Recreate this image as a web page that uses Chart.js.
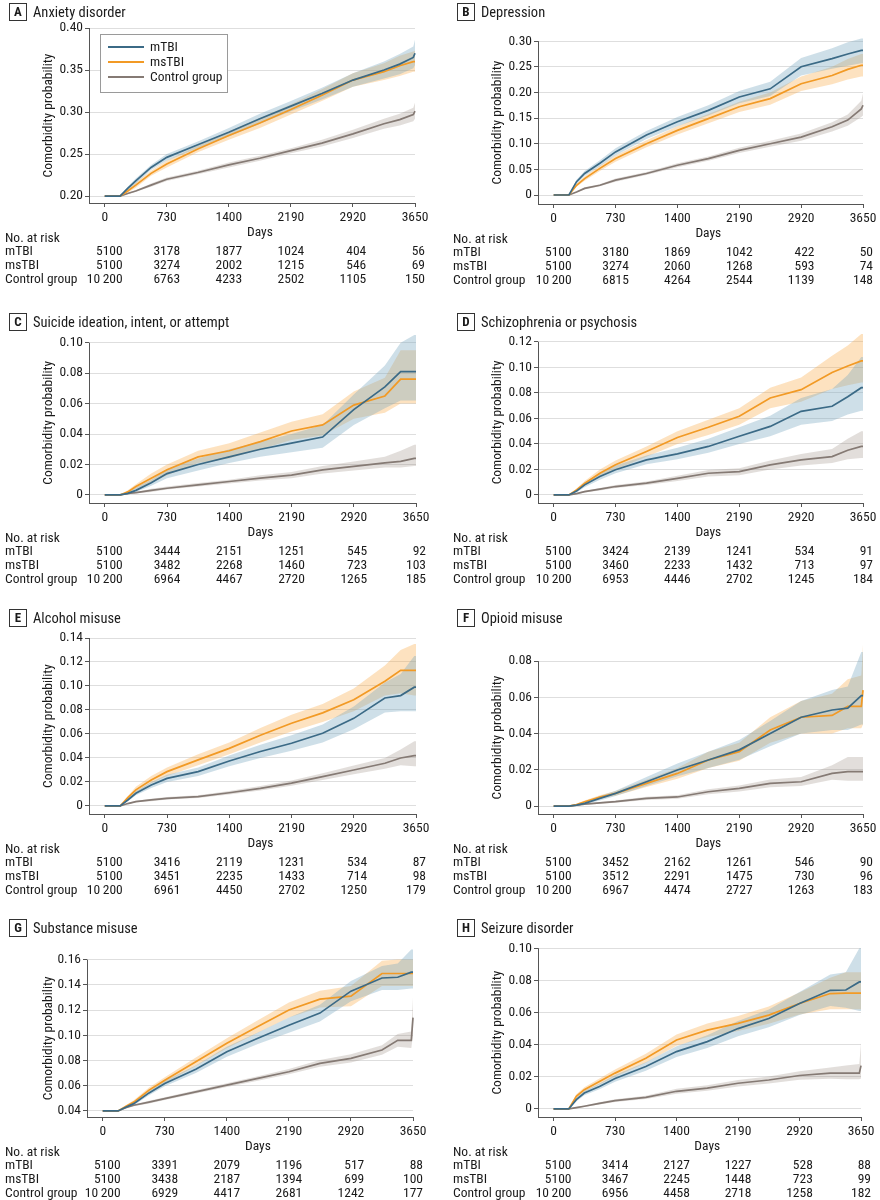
<!DOCTYPE html>
<html lang="en">
<head>
<meta charset="UTF-8">
<title>Comorbidity probability by TBI group</title>
<script src="https://cdn.jsdelivr.net/npm/chart.js@4"></script>
<style>
  html, body { margin: 0; padding: 0; background: #fff; overflow: hidden; }
  .page { position: relative; width: 880px; height: 1200px; }
  .panel { position: absolute; width: 440px; height: 300px; }
</style>
</head>
<body>
<div class="page" id="page"></div>
<script>
// ---- data ----
const days = [0, 180, 270, 365, 545, 730, 1095, 1460, 1825, 2190, 2555, 2920, 3285, 3470, 3630, 3650];
const xTickValues = [0, 730, 1460, 2190, 2920, 3650];
const xTickLabels = ['0', '730', '1400', '2190', '2920', '3650'];
const groupNames = ['mTBI', 'msTBI', 'Control group'];

// A Anxiety disorder
const aMtbi   = [0.200,0.200,0.209,0.218,0.234,0.246,0.261,0.276,0.292,0.307,0.322,0.338,0.350,0.357,0.365,0.370];
const aMtbiLo = [0.200,0.200,0.207,0.215,0.231,0.242,0.257,0.271,0.286,0.301,0.315,0.330,0.340,0.345,0.352,0.356];
const aMtbiHi = [0.200,0.200,0.211,0.221,0.237,0.250,0.265,0.281,0.298,0.313,0.329,0.346,0.360,0.369,0.378,0.386];
const aMs     = [0.200,0.200,0.206,0.213,0.227,0.238,0.256,0.272,0.287,0.303,0.320,0.338,0.348,0.355,0.360,0.360];
const aMsLo   = [0.200,0.200,0.204,0.210,0.224,0.234,0.252,0.267,0.281,0.297,0.313,0.330,0.338,0.343,0.348,0.348];
const aMsHi   = [0.200,0.200,0.208,0.216,0.230,0.242,0.260,0.277,0.293,0.309,0.327,0.346,0.358,0.367,0.372,0.373];
const aCtrl   = [0.200,0.200,0.203,0.206,0.213,0.220,0.228,0.237,0.245,0.254,0.263,0.274,0.286,0.291,0.297,0.301];
const aCtrlLo = [0.200,0.200,0.202,0.205,0.211,0.218,0.226,0.234,0.242,0.251,0.259,0.269,0.280,0.284,0.289,0.292];
const aCtrlHi = [0.200,0.200,0.204,0.207,0.215,0.222,0.230,0.240,0.248,0.257,0.267,0.279,0.292,0.298,0.305,0.311];
const aRiskMtbi = [5100, 3178, 1877, 1024, 404, 56];
const aRiskMs   = [5100, 3274, 2002, 1215, 546, 69];
const aRiskCtrl = [10200, 6763, 4233, 2502, 1105, 150];

// B Depression
const bMtbi   = [0,0,0.026,0.042,0.062,0.084,0.117,0.143,0.165,0.191,0.207,0.250,0.266,0.275,0.282,0.282];
const bMtbiLo = [0,0,0.022,0.037,0.056,0.077,0.109,0.134,0.155,0.179,0.193,0.233,0.246,0.252,0.257,0.257];
const bMtbiHi = [0,0,0.030,0.047,0.068,0.091,0.125,0.152,0.175,0.203,0.221,0.267,0.286,0.298,0.305,0.305];
const bMs     = [0,0,0.019,0.032,0.052,0.071,0.100,0.126,0.149,0.172,0.188,0.217,0.233,0.245,0.253,0.253];
const bMsLo   = [0,0,0.016,0.028,0.047,0.065,0.093,0.118,0.140,0.162,0.176,0.203,0.216,0.225,0.231,0.231];
const bMsHi   = [0,0,0.022,0.036,0.057,0.077,0.107,0.134,0.158,0.182,0.200,0.231,0.250,0.265,0.275,0.275];
const bCtrl   = [0,0,0.006,0.013,0.019,0.029,0.042,0.058,0.071,0.087,0.100,0.113,0.133,0.146,0.168,0.175];
const bCtrlLo = [0,0,0.005,0.011,0.017,0.026,0.039,0.054,0.067,0.082,0.094,0.106,0.124,0.135,0.152,0.155];
const bCtrlHi = [0,0,0.007,0.015,0.021,0.032,0.045,0.062,0.075,0.092,0.106,0.120,0.142,0.157,0.184,0.198];
const bRiskMtbi = [5100, 3180, 1869, 1042, 422, 50];
const bRiskMs   = [5100, 3274, 2060, 1268, 593, 74];
const bRiskCtrl = [10200, 6815, 4264, 2544, 1139, 148];

// C Suicide ideation, intent, or attempt
const cMtbi   = [0,0,0.001,0.003,0.008,0.014,0.020,0.025,0.030,0.034,0.038,0.056,0.071,0.081,0.081,0.081];
const cMtbiLo = [0,0,0.000,0.002,0.006,0.011,0.016,0.021,0.025,0.028,0.031,0.046,0.057,0.062,0.062,0.062];
const cMtbiHi = [0,0,0.002,0.005,0.010,0.017,0.024,0.030,0.035,0.040,0.046,0.066,0.085,0.100,0.105,0.105];
const cMs     = [0,0,0.002,0.0055,0.011,0.0165,0.025,0.029,0.035,0.042,0.046,0.059,0.065,0.076,0.076,0.076];
const cMsLo   = [0,0,0.001,0.004,0.008,0.013,0.021,0.024,0.030,0.036,0.039,0.050,0.054,0.060,0.060,0.060];
const cMsHi   = [0,0,0.003,0.007,0.014,0.020,0.029,0.034,0.041,0.048,0.053,0.068,0.077,0.095,0.095,0.095];
const cCtrl   = [0,0,0.001,0.0015,0.003,0.0044,0.0066,0.0088,0.011,0.013,0.0165,0.0187,0.021,0.022,0.024,0.024];
const cCtrlLo = [0,0,0.0005,0.001,0.002,0.0035,0.0055,0.0075,0.0095,0.011,0.014,0.016,0.018,0.018,0.019,0.019];
const cCtrlHi = [0,0,0.0015,0.002,0.004,0.0055,0.0078,0.010,0.013,0.015,0.019,0.022,0.025,0.029,0.033,0.033];
const cRiskMtbi = [5100, 3444, 2151, 1251, 545, 92];
const cRiskMs   = [5100, 3482, 2268, 1460, 723, 103];
const cRiskCtrl = [10200, 6964, 4467, 2720, 1265, 185];

// D Schizophrenia or psychosis
const dMtbi   = [0,0,0.003,0.0079,0.0144,0.0197,0.0275,0.0322,0.038,0.046,0.0537,0.0655,0.0695,0.077,0.084,0.084];
const dMtbiLo = [0,0,0.002,0.006,0.012,0.017,0.024,0.028,0.033,0.040,0.046,0.055,0.058,0.063,0.066,0.066];
const dMtbiHi = [0,0,0.004,0.010,0.017,0.023,0.031,0.037,0.044,0.053,0.062,0.076,0.083,0.094,0.108,0.108];
const dMs     = [0,0,0.004,0.009,0.017,0.0236,0.034,0.045,0.053,0.0616,0.076,0.0825,0.096,0.101,0.105,0.105];
const dMsLo   = [0,0,0.003,0.007,0.014,0.020,0.030,0.040,0.047,0.055,0.068,0.073,0.083,0.086,0.088,0.088];
const dMsHi   = [0,0,0.005,0.011,0.020,0.027,0.038,0.050,0.059,0.068,0.084,0.092,0.109,0.117,0.126,0.126];
const dCtrl   = [0,0,0.001,0.0026,0.0045,0.0066,0.0092,0.013,0.017,0.0183,0.0236,0.0275,0.030,0.035,0.038,0.038];
const dCtrlLo = [0,0,0.0005,0.002,0.0035,0.0055,0.0078,0.011,0.0145,0.0155,0.020,0.023,0.025,0.028,0.029,0.029];
const dCtrlHi = [0,0,0.0015,0.0033,0.0055,0.0078,0.0106,0.015,0.0195,0.021,0.027,0.032,0.036,0.044,0.050,0.050];
const dRiskMtbi = [5100, 3424, 2139, 1241, 534, 91];
const dRiskMs   = [5100, 3460, 2233, 1432, 713, 97];
const dRiskCtrl = [10200, 6953, 4446, 2702, 1245, 184];

// E Alcohol misuse
const eMtbi   = [0,0,0.005,0.0106,0.0175,0.023,0.0286,0.0375,0.0454,0.0523,0.0606,0.073,0.090,0.092,0.099,0.099];
const eMtbiLo = [0,0,0.004,0.009,0.015,0.020,0.025,0.033,0.040,0.046,0.053,0.064,0.078,0.079,0.079,0.079];
const eMtbiHi = [0,0,0.006,0.0125,0.020,0.026,0.032,0.042,0.051,0.059,0.068,0.083,0.103,0.110,0.125,0.125];
const eMs     = [0,0,0.007,0.0134,0.0217,0.0286,0.0384,0.048,0.059,0.069,0.0776,0.0885,0.104,0.113,0.113,0.113];
const eMsLo   = [0,0,0.006,0.011,0.019,0.025,0.034,0.043,0.053,0.062,0.070,0.079,0.092,0.094,0.092,0.092];
const eMsHi   = [0,0,0.008,0.016,0.025,0.032,0.043,0.053,0.065,0.076,0.085,0.098,0.117,0.130,0.135,0.135];
const eCtrl   = [0,0,0.002,0.0036,0.005,0.0064,0.0078,0.011,0.0147,0.019,0.0245,0.030,0.0356,0.040,0.042,0.042];
const eCtrlLo = [0,0,0.0015,0.003,0.004,0.0053,0.0066,0.0095,0.0128,0.0168,0.0217,0.0265,0.031,0.034,0.033,0.033];
const eCtrlHi = [0,0,0.0025,0.0043,0.006,0.0075,0.009,0.0125,0.0166,0.0212,0.0273,0.0337,0.040,0.047,0.054,0.054];
const eRiskMtbi = [5100, 3416, 2119, 1231, 534, 87];
const eRiskMs   = [5100, 3451, 2235, 1433, 714, 98];
const eRiskCtrl = [10200, 6961, 4450, 2702, 1250, 179];

// F Opioid misuse
const fMtbi   = [0,0,0.0005,0.0015,0.0042,0.007,0.0134,0.0199,0.0254,0.031,0.040,0.049,0.053,0.054,0.061,0.061];
const fMtbiLo = [0,0,0.0000,0.001,0.003,0.0055,0.011,0.0165,0.021,0.0255,0.033,0.040,0.042,0.042,0.045,0.045];
const fMtbiHi = [0,0,0.001,0.002,0.0055,0.0085,0.016,0.0235,0.030,0.0365,0.047,0.058,0.064,0.066,0.085,0.085];
const fMs     = [0,0,0.0008,0.0024,0.005,0.007,0.0125,0.018,0.0254,0.030,0.042,0.049,0.050,0.055,0.055,0.064];
const fMsLo   = [0,0,0.0003,0.0017,0.004,0.0057,0.0105,0.015,0.021,0.025,0.035,0.040,0.040,0.043,0.043,0.045];
const fMsHi   = [0,0,0.0013,0.0031,0.006,0.0083,0.0145,0.021,0.030,0.035,0.049,0.058,0.062,0.070,0.072,0.089];
const fCtrl   = [0,0,0.0005,0.001,0.0017,0.0024,0.0042,0.005,0.0079,0.0097,0.0125,0.0134,0.018,0.019,0.019,0.019];
const fCtrlLo = [0,0,0.0002,0.0006,0.0012,0.0018,0.0033,0.004,0.0065,0.008,0.0103,0.011,0.0145,0.014,0.014,0.014];
const fCtrlHi = [0,0,0.0008,0.0014,0.0022,0.003,0.0051,0.006,0.0093,0.0114,0.0147,0.016,0.0225,0.027,0.027,0.027];
const fRiskMtbi = [5100, 3452, 2162, 1261, 546, 90];
const fRiskMs   = [5100, 3512, 2291, 1475, 730, 96];
const fRiskCtrl = [10200, 6967, 4474, 2727, 1263, 183];

// G Substance misuse
const gMtbi   = [0.040,0.040,0.043,0.0458,0.0543,0.0618,0.073,0.087,0.0976,0.108,0.1176,0.135,0.1454,0.146,0.150,0.150];
const gMtbiLo = [0.040,0.040,0.042,0.0445,0.0525,0.0595,0.070,0.083,0.093,0.102,0.111,0.127,0.136,0.136,0.137,0.137];
const gMtbiHi = [0.040,0.040,0.044,0.047,0.0561,0.0641,0.076,0.091,0.1022,0.114,0.1242,0.143,0.155,0.157,0.168,0.168];
const gMs     = [0.040,0.040,0.0435,0.047,0.0565,0.0644,0.079,0.0937,0.107,0.120,0.1287,0.131,0.149,0.149,0.149,0.149];
const gMsLo   = [0.040,0.040,0.0425,0.0455,0.0545,0.062,0.0757,0.0897,0.102,0.114,0.122,0.123,0.139,0.139,0.139,0.139];
const gMsHi   = [0.040,0.040,0.0445,0.0485,0.0585,0.0668,0.0823,0.0977,0.112,0.126,0.1354,0.139,0.159,0.160,0.160,0.160];
const gCtrl   = [0.040,0.040,0.0425,0.0445,0.047,0.0498,0.0551,0.0605,0.0658,0.0711,0.0777,0.0817,0.0883,0.096,0.096,0.114];
const gCtrlLo = [0.040,0.040,0.042,0.0438,0.046,0.0487,0.0538,0.059,0.064,0.069,0.075,0.0785,0.0845,0.091,0.090,0.100];
const gCtrlHi = [0.040,0.040,0.043,0.0452,0.048,0.0509,0.0564,0.062,0.0676,0.0732,0.0804,0.085,0.0921,0.101,0.103,0.130];
const gRiskMtbi = [5100, 3391, 2079, 1196, 517, 88];
const gRiskMs   = [5100, 3438, 2187, 1394, 699, 100];
const gRiskCtrl = [10200, 6929, 4417, 2681, 1242, 177];

// H Seizure disorder
const hMtbi   = [0,0,0.0058,0.0099,0.014,0.019,0.0264,0.0357,0.0419,0.050,0.0563,0.0656,0.0738,0.074,0.079,0.079];
const hMtbiLo = [0,0,0.0047,0.0085,0.0122,0.0169,0.0237,0.0324,0.038,0.0453,0.0508,0.0585,0.064,0.063,0.061,0.061];
const hMtbiHi = [0,0,0.0069,0.0113,0.0158,0.0211,0.0291,0.039,0.0458,0.0547,0.0618,0.0727,0.0836,0.085,0.100,0.100];
const hMs     = [0,0,0.0078,0.012,0.0171,0.0223,0.0315,0.0429,0.049,0.0532,0.0584,0.0656,0.0718,0.072,0.072,0.072];
const hMsLo   = [0,0,0.0065,0.0105,0.0152,0.0201,0.0287,0.0394,0.0448,0.0485,0.053,0.0588,0.062,0.062,0.062,0.062];
const hMsHi   = [0,0,0.0091,0.0135,0.019,0.0245,0.0343,0.0464,0.0532,0.0579,0.0638,0.0724,0.0816,0.085,0.085,0.085];
const hCtrl   = [0,0,0.0008,0.0017,0.0035,0.0052,0.0072,0.011,0.013,0.016,0.018,0.0208,0.0223,0.0223,0.0223,0.027];
const hCtrlLo = [0,0,0.0004,0.0012,0.0028,0.0043,0.0062,0.0095,0.0113,0.014,0.0158,0.0181,0.0188,0.0185,0.0185,0.019];
const hCtrlHi = [0,0,0.0012,0.0022,0.0042,0.0061,0.0082,0.0125,0.0147,0.018,0.0202,0.0235,0.0258,0.027,0.028,0.041];
const hRiskMtbi = [5100, 3414, 2127, 1227, 528, 88];
const hRiskMs   = [5100, 3467, 2245, 1448, 723, 99];
const hRiskCtrl = [10200, 6956, 4458, 2718, 1258, 182];

// y tick values per panel
const aTicks = [0.20, 0.25, 0.30, 0.35, 0.40];
const bTicks = [0, 0.05, 0.10, 0.15, 0.20, 0.25, 0.30];
const cTicks = [0, 0.02, 0.04, 0.06, 0.08, 0.10];
const dTicks = [0, 0.02, 0.04, 0.06, 0.08, 0.10, 0.12];
const eTicks = [0, 0.02, 0.04, 0.06, 0.08, 0.10, 0.12, 0.14];
const fTicks = [0, 0.02, 0.04, 0.06, 0.08];
const gTicks = [0.04, 0.06, 0.08, 0.10, 0.12, 0.14, 0.16];
const hTicks = [0, 0.02, 0.04, 0.06, 0.08, 0.10];

// ---- styling ----
const FONT = '"Liberation Sans Narrow", "Roboto Condensed", Roboto, sans-serif';
const FS = 13.5;
const TEXT = '#1a1a1a';
const lineColors = ['#3b6a86', '#f29a25', '#857a74'];
const bandColors = ['rgba(120,165,192,0.36)', 'rgba(248,170,70,0.34)', 'rgba(150,136,126,0.28)'];

// panel list built from the arrays above
const panels = [
  { key: 'A', title: 'Anxiety disorder', series: [[aMtbi, aMtbiLo, aMtbiHi], [aMs, aMsLo, aMsHi], [aCtrl, aCtrlLo, aCtrlHi]], risk: [aRiskMtbi, aRiskMs, aRiskCtrl], ticks: aTicks },
  { key: 'B', title: 'Depression', series: [[bMtbi, bMtbiLo, bMtbiHi], [bMs, bMsLo, bMsHi], [bCtrl, bCtrlLo, bCtrlHi]], risk: [bRiskMtbi, bRiskMs, bRiskCtrl], ticks: bTicks },
  { key: 'C', title: 'Suicide ideation, intent, or attempt', series: [[cMtbi, cMtbiLo, cMtbiHi], [cMs, cMsLo, cMsHi], [cCtrl, cCtrlLo, cCtrlHi]], risk: [cRiskMtbi, cRiskMs, cRiskCtrl], ticks: cTicks },
  { key: 'D', title: 'Schizophrenia or psychosis', series: [[dMtbi, dMtbiLo, dMtbiHi], [dMs, dMsLo, dMsHi], [dCtrl, dCtrlLo, dCtrlHi]], risk: [dRiskMtbi, dRiskMs, dRiskCtrl], ticks: dTicks },
  { key: 'E', title: 'Alcohol misuse', series: [[eMtbi, eMtbiLo, eMtbiHi], [eMs, eMsLo, eMsHi], [eCtrl, eCtrlLo, eCtrlHi]], risk: [eRiskMtbi, eRiskMs, eRiskCtrl], ticks: eTicks },
  { key: 'F', title: 'Opioid misuse', series: [[fMtbi, fMtbiLo, fMtbiHi], [fMs, fMsLo, fMsHi], [fCtrl, fCtrlLo, fCtrlHi]], risk: [fRiskMtbi, fRiskMs, fRiskCtrl], ticks: fTicks },
  { key: 'G', title: 'Substance misuse', series: [[gMtbi, gMtbiLo, gMtbiHi], [gMs, gMsLo, gMsHi], [gCtrl, gCtrlLo, gCtrlHi]], risk: [gRiskMtbi, gRiskMs, gRiskCtrl], ticks: gTicks },
  { key: 'H', title: 'Seizure disorder', series: [[hMtbi, hMtbiLo, hMtbiHi], [hMs, hMsLo, hMsHi], [hCtrl, hCtrlLo, hCtrlHi]], risk: [hRiskMtbi, hRiskMs, hRiskCtrl], ticks: hTicks }
];

// page geometry (page pixels): column, row top, y spine x, x=3650 pixel, chart top, x spine y, title y, axis range
const geom = {
  A: { col: 0,   row: 0,   spineX: 89,  rightX: 415, top: 28,  spineY: 203,  titleY: 12,  yMin: 0.1917, yMax: 0.40 },
  B: { col: 440, row: 0,   spineX: 538, rightX: 863, top: 36,  spineY: 204,  titleY: 12,  yMin: -0.0175, yMax: 0.31 },
  C: { col: 0,   row: 305, spineX: 89,  rightX: 416, top: 332, spineY: 503,  titleY: 322, yMin: -0.0053, yMax: 0.107 },
  D: { col: 440, row: 305, spineX: 538, rightX: 863, top: 329, spineY: 503,  titleY: 322, yMin: -0.0063, yMax: 0.13 },
  E: { col: 0,   row: 600, spineX: 89,  rightX: 416, top: 638, spineY: 814,  titleY: 618, yMin: -0.0067, yMax: 0.14 },
  F: { col: 440, row: 600, spineX: 538, rightX: 863, top: 643, spineY: 814,  titleY: 618, yMin: -0.0044, yMax: 0.09 },
  G: { col: 0,   row: 905, spineX: 87,  rightX: 413, top: 947, spineY: 1117, titleY: 928, yMin: 0.0352, yMax: 0.17 },
  H: { col: 440, row: 905, spineX: 538, rightX: 861, top: 945, spineY: 1117, titleY: 928, yMin: -0.005, yMax: 0.102 }
};
const W = 440, H = 300, YAXIS_W = 40, XAXIS_H = 24;

function fmtRisk(n) {
  if (n >= 10000) return Math.floor(n / 1000) + '\u2009' + String(n % 1000).padStart(3, '0');
  return String(n);
}
function fmtY(v) {
  return Math.abs(v) < 1e-9 ? '0' : v.toFixed(2);
}

// titles, y title, Days, at-risk table, legend
function panelTextPlugin(p, g) {
  const isLeft = g.col === 0;
  return {
    id: 'panelText' + p.key,
    afterDraw(chart) {
      const ctx = chart.ctx;
      const xs = chart.scales.x, ys = chart.scales.y;
      const area = chart.chartArea;
      ctx.save();

      // y spine from top tick down
      ctx.strokeStyle = '#555';
      ctx.lineWidth = 1;
      ctx.beginPath();
      ctx.moveTo(area.left + 0.5, ys.getPixelForValue(p.ticks[p.ticks.length - 1]));
      ctx.lineTo(area.left + 0.5, area.bottom);
      ctx.stroke();

      // panel title
      const ty = g.titleY - g.row;
      const bx = isLeft ? 9 : 17;
      ctx.strokeStyle = '#333';
      ctx.strokeRect(bx + 0.5, ty - 8.5, 17, 17);
      ctx.fillStyle = TEXT;
      ctx.textBaseline = 'middle';
      ctx.textAlign = 'center';
      ctx.font = 'bold 13px ' + FONT;
      ctx.fillText(p.key, bx + 9, ty + 1);
      ctx.textAlign = 'left';
      ctx.font = '14.5px ' + FONT;
      ctx.fillText(p.title, bx + 24, ty + 1);

      // y axis title
      ctx.font = FS + 'px ' + FONT;
      ctx.save();
      ctx.translate(isLeft ? 49 : 58, (ys.getPixelForValue(p.ticks[p.ticks.length - 1]) + area.bottom) / 2);
      ctx.rotate(-Math.PI / 2);
      ctx.textAlign = 'center';
      ctx.fillText('Comorbidity probability', 0, 0);
      ctx.restore();

      // x axis title
      ctx.textAlign = 'center';
      ctx.fillText('Days', (xs.getPixelForValue(0) + xs.getPixelForValue(3650)) / 2, area.bottom + 30);

      // no. at risk table
      const lx = isLeft ? 5 : 13;
      ctx.textAlign = 'left';
      ctx.fillText('No. at risk', lx, area.bottom + 36);
      groupNames.forEach((name, r) => {
        ctx.textAlign = 'left';
        ctx.fillText(name, lx, area.bottom + 49 + r * 14);
      });
      xTickValues.forEach((v, c) => {
        const cells = p.risk.map(row => fmtRisk(row[c]));
        const maxW = Math.max(...cells.map(s => ctx.measureText(s).width));
        const rx = xs.getPixelForValue(v) + maxW / 2;
        ctx.textAlign = 'right';
        cells.forEach((s, r) => ctx.fillText(s, rx, area.bottom + 49 + r * 14));
      });

      // legend box (panel A only)
      if (p.key === 'A') {
        const lx0 = 100 - g.col, ly0 = 34 - g.row;
        ctx.fillStyle = '#fff';
        ctx.fillRect(lx0, ly0, 127, 58);
        ctx.strokeStyle = '#9a9a9a';
        ctx.strokeRect(lx0 + 0.5, ly0 + 0.5, 127, 58);
        groupNames.forEach((name, i) => {
          const yy = ly0 + 13 + i * 15;
          ctx.strokeStyle = lineColors[i];
          ctx.lineWidth = 2;
          ctx.beginPath();
          ctx.moveTo(lx0 + 8, yy);
          ctx.lineTo(lx0 + 44, yy);
          ctx.stroke();
          ctx.fillStyle = TEXT;
          ctx.textAlign = 'left';
          ctx.font = FS + 'px ' + FONT;
          ctx.fillText(name, lx0 + 50, yy + 1);
        });
      }
      ctx.restore();
    }
  };
}

function toPoints(vals) {
  return days.map((d, i) => ({ x: d, y: vals[i] }));
}

const page = document.getElementById('page');
panels.forEach(p => {
  const g = geom[p.key];
  const wrap = document.createElement('div');
  wrap.className = 'panel';
  wrap.style.left = g.col + 'px';
  wrap.style.top = g.row + 'px';
  const canvas = document.createElement('canvas');
  canvas.width = W;
  canvas.height = H;
  wrap.appendChild(canvas);
  page.appendChild(wrap);

  const lines = p.series.map((s, i) => ({
    label: groupNames[i], data: toPoints(s[0]), borderColor: lineColors[i], borderWidth: 1.7,
    pointRadius: 0, fill: false, tension: 0, order: 0, clip: false
  }));
  const bands = [];
  p.series.forEach((s, i) => {
    const loIndex = 3 + bands.length;
    bands.push({ label: groupNames[i] + ' lo', data: toPoints(s[1]), borderWidth: 0, pointRadius: 0, fill: false, order: 1 });
    bands.push({ label: groupNames[i] + ' hi', data: toPoints(s[2]), borderWidth: 0, pointRadius: 0, fill: loIndex, backgroundColor: bandColors[i], order: 1 });
  });

  const chartLeft = g.spineX - g.col, chartRight = g.rightX - g.col;
  const chartTop = g.top - g.row, chartBottom = g.spineY - g.row;

  new Chart(canvas.getContext('2d'), {
    type: 'line',
    data: { datasets: lines.concat(bands) },
    options: {
      responsive: false,
      animation: false,
      events: [],
      layout: {
        padding: {
          left: chartLeft - YAXIS_W,
          right: W - chartRight,
          top: chartTop,
          bottom: H - chartBottom - XAXIS_H
        }
      },
      plugins: { legend: { display: false }, tooltip: { enabled: false }, title: { display: false } },
      scales: {
        x: {
          type: 'linear', min: -185, max: 3650,
          afterBuildTicks: s => { s.ticks = xTickValues.map(v => ({ value: v })); },
          afterFit: s => { s.height = XAXIS_H; },
          ticks: {
            font: { family: FONT, size: FS }, color: TEXT, padding: 3, maxRotation: 0,
            callback: (v, i) => xTickLabels[i]
          },
          grid: { display: true, drawOnChartArea: false, drawTicks: true, tickLength: 4, tickColor: '#555' },
          border: { display: true, color: '#555', width: 1 }
        },
        y: {
          type: 'linear', min: g.yMin, max: g.yMax,
          afterBuildTicks: s => { s.ticks = p.ticks.map(v => ({ value: v })); },
          afterFit: s => { s.width = YAXIS_W; },
          ticks: {
            font: { family: FONT, size: FS }, color: TEXT, padding: 2,
            callback: v => fmtY(v)
          },
          grid: { color: '#dedede', lineWidth: 1, drawTicks: true, tickLength: 4, tickColor: '#555' },
          border: { display: false }
        }
      }
    },
    plugins: [panelTextPlugin(p, g)]
  });
});
</script>
</body>
</html>
